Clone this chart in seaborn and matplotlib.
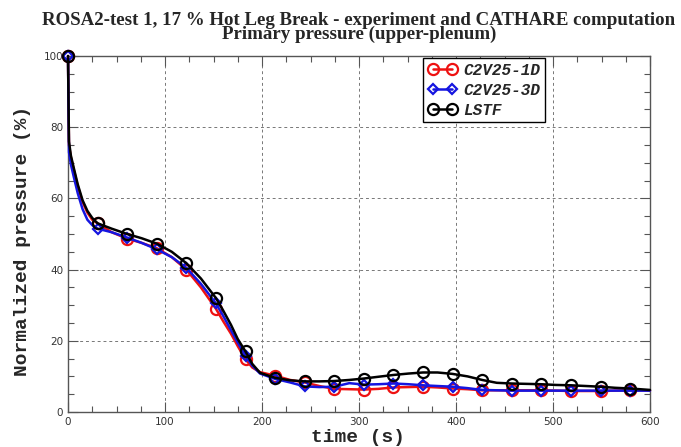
import numpy as np
import pandas as pd
import matplotlib
matplotlib.use("Agg")
import matplotlib.pyplot as plt
from matplotlib.ticker import MultipleLocator
import seaborn as sns

# time grid (s); markers sit on multiples of 30.5 s
time = [0, 1, 3, 6, 10, 15, 20, 25, 30.5, 45, 61, 76, 91.5, 107, 122, 137,
        152.5, 160, 168, 175, 183, 190, 198, 213.5, 229, 244, 259, 274.5,
        290, 305, 320, 335.5, 351, 366, 381, 396.5, 412, 427, 442, 457.5,
        473, 488, 503, 518.5, 534, 549, 564, 579.5, 600]

c2v25_1d = [100, 75, 71.5, 68, 63.5, 59, 56, 54, 53, 50.5, 48.7, 47.5, 46,
            43.5, 40, 35, 29, 25.5, 22, 18.5, 14.8, 12.5, 11.2, 10.2, 9.0,
            8.3, 7.3, 6.5, 6.4, 6.3, 6.5, 6.9, 7.0, 7.1, 6.9, 6.6, 6.4, 6.1,
            6.1, 6.1, 6.1, 6.1, 6.0, 5.9, 5.9, 5.9, 6.0, 6.1, 6.0]

c2v25_3d = [100, 73, 69.5, 66, 61.5, 57, 54, 52.5, 51.5, 50.5, 49, 47.5,
            45.7, 43.5, 40.5, 36, 30.5, 27, 23, 19.5, 15.8, 13, 10.8, 9.3,
            8.3, 7.2, 7.0, 7.1, 8.1, 7.7, 7.8, 8.0, 7.8, 7.5, 7.3, 7.1, 6.7,
            6.2, 6.1, 6.0, 6.0, 6.0, 6.0, 6.0, 6.0, 6.0, 6.0, 6.0, 6.0]

lstf = [100, 76, 72, 68.5, 64, 59.5, 56.5, 54.5, 53, 51.5, 50, 48.8, 47.3,
        45, 41.8, 37.5, 32, 28.5, 24.5, 20.5, 17, 13.5, 11, 9.6, 8.9, 8.6,
        8.6, 8.7, 9.0, 9.4, 9.9, 10.4, 10.8, 11.1, 11.1, 10.7, 10.0, 9.0,
        8.2, 8.0, 7.9, 7.8, 7.6, 7.5, 7.3, 7.1, 6.8, 6.6, 6.2]

series = ["C2V25-1D", "C2V25-3D", "LSTF"]
values = [c2v25_1d, c2v25_3d, lstf]
colors = ["#ee1111", "#1515e0", "black"]
markers = ["o", "D", "o"]
msizes = [8, 5.5, 8]

sns.set_style("ticks")

fig = plt.figure(figsize=(6.81, 4.47), dpi=100)
ax = fig.add_axes([68 / 681, 1 - 412 / 447, 582 / 681, 356 / 447])

t = np.array(time)
mark_idx = [i for i, v in enumerate(t) if np.isclose(v / 30.5, round(v / 30.5))]

for name, vals, c, m, ms in zip(series, values, colors, markers, msizes):
    df = pd.DataFrame({"time": time, "p": vals})
    sns.lineplot(data=df, x="time", y="p", ax=ax, color=c, lw=1.8,
                 marker=m, markersize=ms, markerfacecolor="none",
                 markeredgecolor=c, markeredgewidth=1.6,
                 markevery=mark_idx, label=name, clip_on=False, zorder=3)

ax.set_xlim(0, 600)
ax.set_ylim(0, 100)
ax.xaxis.set_major_locator(MultipleLocator(100))
ax.xaxis.set_minor_locator(MultipleLocator(25))
ax.yaxis.set_major_locator(MultipleLocator(20))
ax.yaxis.set_minor_locator(MultipleLocator(5))
ax.tick_params(which="both", direction="in", top=True, right=True,
               color="#555555", labelsize=7.5, labelcolor="#333333")
ax.tick_params(which="major", length=7, width=0.8)
ax.tick_params(which="minor", length=4, width=0.8)
ax.grid(True, which="major", ls=(0, (3, 3)), color="#777777", lw=0.7)
for s in ax.spines.values():
    s.set_color("#555555")
    s.set_linewidth(1.0)

ax.set_xlabel("time (s)", family="Liberation Mono", weight="bold",
              fontsize=14, va="center")
ax.xaxis.set_label_coords(0.498, -0.073)
ax.set_ylabel("Normalized pressure (%)", family="Liberation Mono",
              weight="bold", fontsize=14, va="center")
ax.yaxis.set_label_coords(-0.079, 0.48)
ax.set_title("ROSA2-test 1, 17 % Hot Leg Break - experiment and CATHARE computation\n"
             "Primary pressure (upper-plenum)", family="Liberation Serif",
             weight="bold", fontsize=13.6, linespacing=0.75, pad=12)

leg = ax.legend(loc="upper left", bbox_to_anchor=(0.61, 0.994), numpoints=2,
                handlelength=1.8, handletextpad=0.4, fancybox=False,
                framealpha=1, edgecolor="black", borderpad=0.3,
                labelspacing=0.3, borderaxespad=0,
                prop={"family": "Liberation Mono", "style": "italic",
                      "weight": "bold", "size": 11.5})
leg.get_frame().set_linewidth(1.0)

fig.savefig("out.png", dpi=100)
